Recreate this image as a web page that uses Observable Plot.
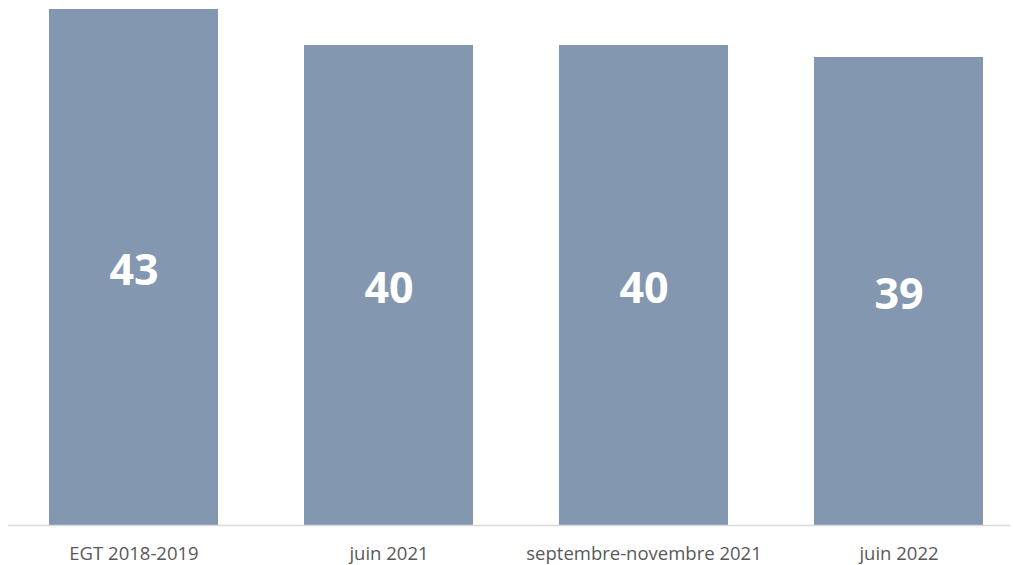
<!DOCTYPE html>
<html>
<head>
<meta charset="utf-8">
<script src="https://cdn.jsdelivr.net/npm/d3@7"></script>
<script src="https://cdn.jsdelivr.net/npm/@observablehq/plot@0.6"></script>
<style>
  html, body { margin: 0; padding: 0; background: #ffffff; }
  #chart { width: 1013px; height: 565px; }
</style>
</head>
<body>
<div id="chart"></div>
<script>
const categories = ["EGT 2018-2019", "juin 2021", "septembre-novembre 2021", "juin 2022"];
const values = [43, 40, 40, 39];

const data = categories.map((c, i) => ({ periode: c, valeur: values[i] }));

const chart = Plot.plot({
  width: 1013,
  height: 565,
  marginTop: 9,
  marginBottom: 40,
  marginLeft: 8,
  marginRight: 3,
  style: { fontFamily: "'Open Sans', sans-serif", background: "#ffffff" },
  x: {
    domain: categories,
    paddingInner: 0.336,
    paddingOuter: 0.128,
    align: 0.61,
    label: null,
    axis: null
  },
  y: { domain: [0, 43], axis: null },
  marks: [
    Plot.barY(data, { x: "periode", y: "valeur", fill: "#8497B0" }),
    Plot.ruleY([0], { stroke: "#d9d9d9", strokeWidth: 1.5 }),
    Plot.text(data, {
      x: "periode",
      y: d => d.valeur / 2,
      dy: 4,
      text: d => String(d.valeur),
      fill: "#ffffff",
      fontWeight: "bold",
      fontSize: 43
    }),
    Plot.axisX({ tickSize: 0, tickPadding: 21, fontSize: 18.5, fill: "#595959", label: null })
  ]
});

document.getElementById("chart").appendChild(chart);
</script>
</body>
</html>
